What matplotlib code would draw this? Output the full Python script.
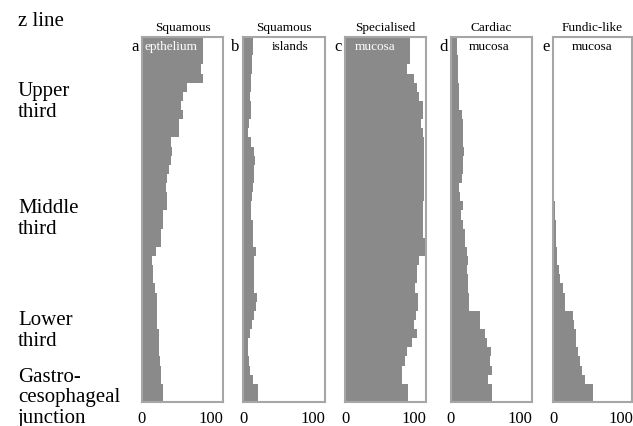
import numpy as np
import matplotlib.pyplot as plt

plt.rcParams['font.family'] = ['Liberation Serif', 'DejaVu Serif']

# 40 equal bins from the z line (top) down to the gastro-oesophageal junction
n_bins = 40
bin_edges = np.linspace(0, 100, n_bins + 1)

squamous_epith = [87.7, 87.7, 87.7, 85, 87.7, 65, 59, 56, 59, 53,
                  53, 42, 44, 42, 39, 36, 35, 36, 36, 30,
                  30, 28, 28, 20, 14, 16, 16, 19, 21, 21,
                  21, 21, 24, 24, 24, 26, 28, 28, 31, 31]
squamous_islands = [14, 14, 12.6, 12.6, 11, 11, 10, 11, 11, 9,
                    7.7, 11, 15, 17, 16, 15, 14, 12.6, 11, 11,
                    14, 14, 14, 19, 15, 15, 16, 16, 20, 19,
                    15, 12.6, 10, 7.7, 7.7, 9, 10, 14, 22, 22]
specialised = [94, 94, 94, 89, 99, 104, 107, 112, 112, 110,
               113, 114, 114, 114, 114, 114, 114, 114, 112, 112,
               113, 113, 115.5, 115.5, 107, 104, 104, 101, 106, 106,
               102.5, 100, 104, 97, 90, 86, 83, 83, 91, 91]
cardiac = [8, 8, 10.5, 10.5, 10.5, 12, 12, 12, 15.5, 17.8,
           17.8, 17.8, 18.8, 17, 17, 15.5, 11.6, 12.6, 17, 14.4,
           17.8, 20, 20, 22.7, 25, 23, 24, 25, 26.4, 26.4,
           42, 42, 49, 51.6, 58, 56, 58.8, 54, 58.8, 58.8]
fundic = [0, 0, 0, 0, 0, 0, 0, 0, 1.5, 1.5,
          1.5, 1.5, 2, 2, 2, 0, 0, 0.7, 3, 3,
          4.4, 4.4, 4.4, 6.3, 6.3, 9, 11, 15, 17.5, 17.5,
          29, 31, 34, 34, 37, 40, 43, 48, 59, 59]

series = [squamous_epith, squamous_islands, specialised, cardiac, fundic]
titles_top = ["Squamous", "Squamous", "Specialised", "Cardiac", "Fundic-like"]
titles_bottom = ["epthelium", "islands", "mucosa", "mucosa", "mucosa"]
letters = ["a", "b", "c", "d", "e"]
row_labels = ["z line", "Upper\nthird", "Middle\nthird", "Lower\nthird",
              "Gastro-\ncesophageal\njunction"]

# layout in pixels (633 x 427 figure)
W, H = 633, 427
lefts = [142, 243, 345, 451, 553]
widths = [81, 82, 81, 81, 79]
top_px, bot_px = 38, 403
inner_x = [0.36, 0.57, 0.37, 0.47, 0.5]
inner_col = ["white", "black", "white", "black", "black"]
label_y = [22, 102, 219, 331, 398]

fig = plt.figure(figsize=(W / 100, H / 100), dpi=100)
fill_col = "#8a8a8a"
edge_col = "#a6a6a6"

for i, vals in enumerate(series):
    ax = fig.add_axes([lefts[i] / W, 1 - bot_px / H, widths[i] / W, (bot_px - top_px) / H])
    ax.stairs(vals, bin_edges, orientation='horizontal', fill=True,
              color=fill_col, baseline=0)
    ax.set_xlim(0, 117)
    ax.set_ylim(100, 0)
    ax.set_yticks([])
    ax.set_xticks([0, 100])
    ax.set_xticklabels(["0", "100"], fontsize=12)
    ax.tick_params(axis='x', length=0, pad=6)
    for s in ax.spines.values():
        s.set_color(edge_col)
        s.set_linewidth(1.5)
    ax.text(0.5, 1.028, titles_top[i], transform=ax.transAxes, ha='center',
            va='center', fontsize=9.5)
    ax.text(inner_x[i], 0.975, titles_bottom[i], transform=ax.transAxes,
            ha='center', va='center', fontsize=9.5, color=inner_col[i])
    ax.text(-0.04, 0.975, letters[i], transform=ax.transAxes, ha='right',
            va='center', fontsize=12)

for lab, y in zip(row_labels, label_y):
    fig.text(18 / W, 1 - y / H, lab, ha='left', va='center', fontsize=15,
             linespacing=1.1)

fig.savefig("out.png", dpi=100)
